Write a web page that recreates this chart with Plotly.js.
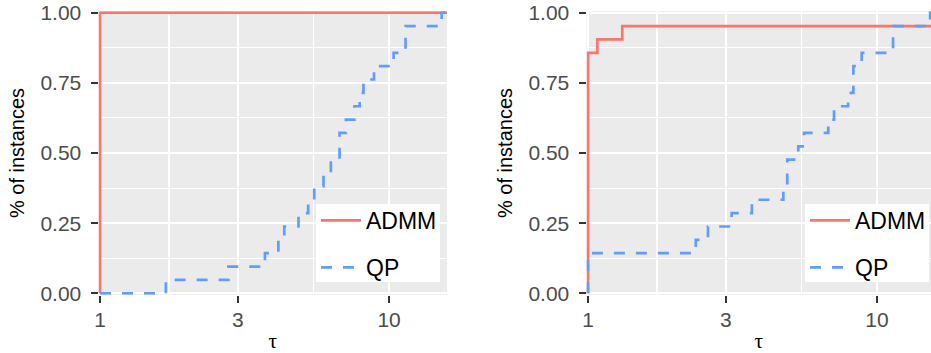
<!DOCTYPE html>
<html>
<head>
<meta charset="utf-8">
<script src="https://cdn.plot.ly/plotly-3.0.1.min.js"></script>
<style>html,body{margin:0;padding:0;background:#fff;} #chart{width:931px;height:353px;}</style>
</head>
<body>
<div id="chart"></div>
<script>
// ---- data ----
const nInstances = 21;
const tauMaxLeft = 15.86;
const tauMaxRight = 15.37;

// Left panel
const leftAdmmTau = [1, 1, tauMaxLeft];
const leftAdmmCount = [0, 21, 21];
const leftQpTau = [1, 1.69, 2.78, 3.72, 4.14, 4.34, 4.86, 5.25, 5.51, 5.93, 6.29, 6.74, 7.09, 7.59, 7.91, 8.15, 8.87, 10.37, 11.4, 15.2, tauMaxLeft];
const leftQpCount = [0, 1, 2, 3, 4, 5, 6, 7, 8, 9, 10, 12, 13, 14, 15, 16, 17, 18, 20, 21, 21];

// Right panel
const rightAdmmTau = [1, 1, 1.077, 1.314, tauMaxRight];
const rightAdmmCount = [0, 18, 19, 20, 20];
const rightQpTau = [1, 1, 2.36, 2.60, 3.14, 3.69, 4.74, 4.89, 5.34, 5.59, 6.78, 7.10, 7.94, 8.28, 8.85, 11.36, 15.26, tauMaxRight];
const rightQpCount = [0, 3, 4, 5, 6, 7, 8, 10, 11, 12, 13, 14, 15, 17, 18, 20, 21, 21];

const xTickVals = [1, 3, 10];
const xTickText = ['1', '3', '10'];
const xMinorVals = [1.732, 5.477];
const yTickVals = [0, 0.25, 0.5, 0.75, 1];
const yTickText = ['0.00', '0.25', '0.50', '0.75', '1.00'];
const yMinorVals = [0.125, 0.375, 0.625, 0.875];
const seriesNames = ['ADMM', 'QP'];

// ---- styling ----
const RED = '#F8766D', BLUE = '#619CFF';
const FONT = 'Liberation Sans, Arial, sans-serif';
const frac = a => a.map(v => v / nInstances);

function trace(x, c, name, color, dash, xa, ya, legend) {
  return {
    type: 'scatter', mode: 'lines', x: x, y: frac(c), name: name,
    xaxis: xa, yaxis: ya, legend: legend, legendgroup: name + legend,
    line: {color: color, width: 2.7, shape: 'hv', dash: dash},
    cliponaxis: false, hoverinfo: 'skip'
  };
}
const DASH = '11px,11px';
const data = [
  trace(leftAdmmTau, leftAdmmCount, seriesNames[0], RED, 'solid', 'x', 'y', 'legend'),
  trace(leftQpTau, leftQpCount, seriesNames[1], BLUE, DASH, 'x', 'y', 'legend'),
  trace(rightAdmmTau, rightAdmmCount, seriesNames[0], RED, 'solid', 'x2', 'y2', 'legend2'),
  trace(rightQpTau, rightQpCount, seriesNames[1], BLUE, DASH, 'x2', 'y2', 'legend2')
];

const W = 931, H = 353;
const PAD = 1.5;                 // px of panel beyond the data limits (so edge lines are not clipped)
const Y0PX = 293.3, Y1PX = 12.7; // pixel rows of y=0 and y=1
const yPxPerUnit = Y0PX - Y1PX;
const yPadU = PAD / yPxPerUnit;
const yDom = [(H - Y0PX - PAD) / H, (H - Y1PX + PAD) / H];
const PX_PER_DECADE = 289;
const xPadD = PAD / PX_PER_DECADE;

function xAxis(leftPx, rightPx, tmax, anchor) {
  return {
    type: 'log', domain: [(leftPx - PAD) / W, Math.min(1, rightPx / W)],
    range: [-xPadD, Math.log10(tmax)], anchor: anchor,
    tickmode: 'array', tickvals: xTickVals, ticktext: xTickText,
    ticks: 'outside', ticklen: 7, tickwidth: 2, tickcolor: '#333333',
    tickfont: {family: FONT, size: 21, color: '#4D4D4D'},
    ticklabelstandoff: -1,
    showgrid: true, gridcolor: '#FFFFFF', gridwidth: 2,
    minor: {tickmode: 'array', tickvals: xMinorVals, showgrid: true, gridcolor: '#FFFFFF', gridwidth: 1.1, ticks: ''},
    zeroline: false, showline: false, fixedrange: true,
    title: {text: 'τ', font: {family: 'Liberation Serif, serif', size: 21, color: '#000'}, standoff: 7}
  };
}
function yAxis(anchor) {
  return {
    domain: yDom, range: [-yPadU, 1 + yPadU], anchor: anchor,
    tickmode: 'array', tickvals: yTickVals, ticktext: yTickText,
    ticks: 'outside', ticklen: 7, tickwidth: 2, tickcolor: '#333333',
    tickfont: {family: FONT, size: 21, color: '#4D4D4D'},
    ticklabelstandoff: 5,
    showgrid: true, gridcolor: '#FFFFFF', gridwidth: 2,
    minor: {tickmode: 'array', tickvals: yMinorVals, showgrid: true, gridcolor: '#FFFFFF', gridwidth: 1.1, ticks: ''},
    zeroline: false, showline: false, fixedrange: true,
    title: {text: '% of instances', font: {family: FONT, size: 20, color: '#000'}, standoff: 10}
  };
}
function legendBox(xpx) {
  return {
    x: xpx / W, y: (H - 199) / H, xanchor: 'left', yanchor: 'top',
    bgcolor: 'rgba(0,0,0,0)', borderwidth: 0, traceorder: 'grouped', tracegroupgap: 14,
    itemwidth: 40,
    font: {family: FONT, size: 23, color: '#000'}
  };
}
function legendBg(x0, x1) {
  return {type: 'rect', xref: 'paper', yref: 'paper', layer: 'above',
    x0: x0 / W, x1: x1 / W, y0: (H - 282) / H, y1: (H - 204) / H,
    fillcolor: '#FFFFFF', line: {width: 0}};
}

const layout = {
  width: W, height: H,
  margin: {l: 0, r: 0, t: 0, b: 0},
  paper_bgcolor: '#FFFFFF', plot_bgcolor: '#EBEBEB',
  showlegend: true,
  xaxis: xAxis(100, 447, tauMaxLeft, 'y'),
  yaxis: yAxis('x'),
  xaxis2: xAxis(588, 931, tauMaxRight, 'y2'),
  yaxis2: yAxis('x2'),
  legend: legendBox(316),
  legend2: legendBox(805),
  shapes: [legendBg(316, 440), legendBg(805, 929)]
};

Plotly.newPlot('chart', data, layout, {staticPlot: true, displayModeBar: false});
</script>
</body>
</html>
